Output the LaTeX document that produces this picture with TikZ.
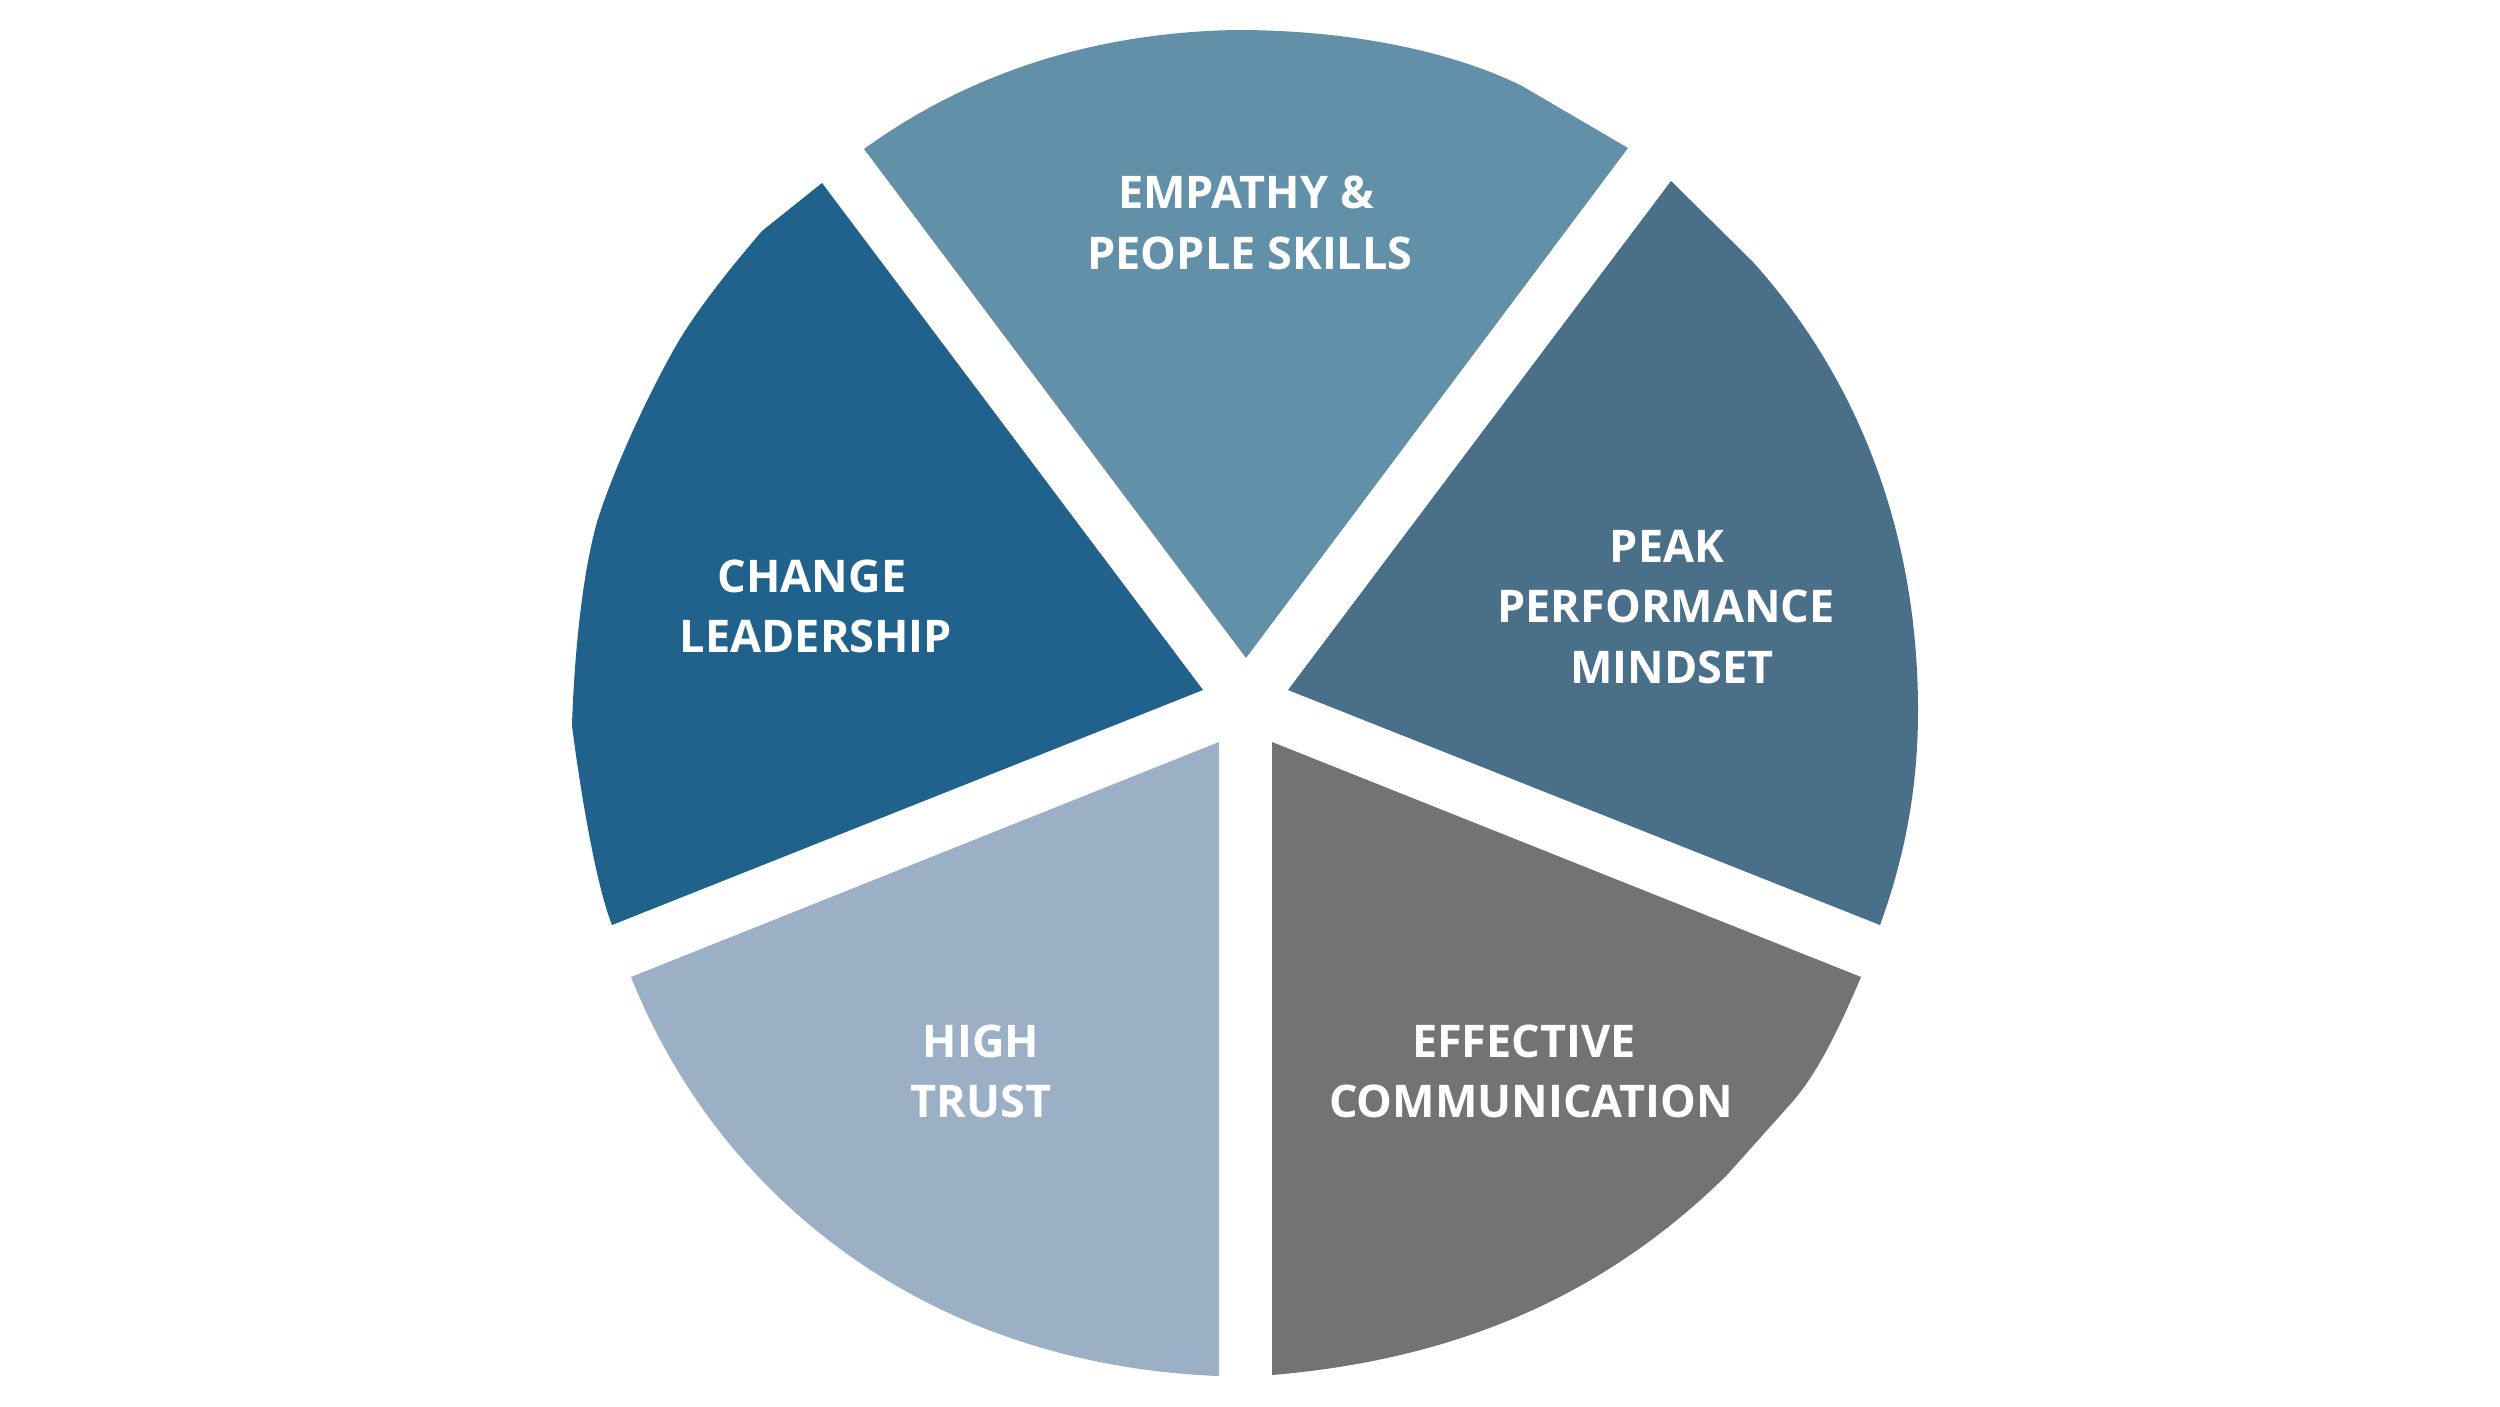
\documentclass[tikz,border=0pt]{standalone}
\usepackage{fontspec}
\setmainfont{Open Sans}
\definecolor{cEmp}{HTML}{6190A8}
\definecolor{cPeak}{HTML}{4A7089}
\definecolor{cChange}{HTML}{20628C}
\definecolor{cTrust}{HTML}{9BB0C5}
\definecolor{cEff}{HTML}{737373}
\tikzset{
  lbl/.style={text=white, font=\fontsize{12.8}{17}\selectfont\bfseries, anchor=base, inner sep=0pt},
}
\begin{document}
\begin{tikzpicture}[x=0.01cm,y=-0.01cm]
\useasboundingbox[fill=white] (0,0) rectangle (2500,1406);
% Empathy (top)
\fill[cEmp] (1246,658) -- (864,149)
  .. controls (980,65) and (1110,32) .. (1237,30)
  .. controls (1360,30) and (1460,55) .. (1522,86)
  -- (1628,148) -- cycle;
% Peak performance (upper right)
\fill[cPeak] (1288,690) -- (1671,181) -- (1753,262)
  .. controls (1850,370) and (1918,520) .. (1918,711)
  .. controls (1918,800) and (1900,870) .. (1880,925)
  -- cycle;
% Effective communication (lower right)
\fill[cEff] (1272,742) -- (1861,977)
  .. controls (1830,1050) and (1812,1078) .. (1794,1100)
  -- (1727,1175)
  .. controls (1600,1300) and (1450,1360) .. (1272,1375)
  -- cycle;
% High trust (lower left)
\fill[cTrust] (1219,742) -- (1219,1376)
  .. controls (930,1365) and (720,1200) .. (631,977)
  -- cycle;
% Change leadership (upper left)
\fill[cChange] (1203,690) -- (822,183) -- (762,231)
  .. controls (720,280) and (690,320) .. (673,351)
  .. controls (640,410) and (610,480) .. (597,522)
  .. controls (578,590) and (573,690) .. (572,726)
  .. controls (583,810) and (598,890) .. (612,925)
  -- cycle;
% Labels
\node[lbl] (emp1) at (1246,208) {EMPATHY \&};
\node[lbl] (emp2) at (1250,269) {PEOPLE SKILLS};
\node[lbl] (chg1) at (812,592) {CHANGE};
\node[lbl] (chg2) at (816,652) {LEADERSHIP};
\node[lbl] (pk1) at (1667,562) {PEAK};
\node[lbl] (pk2) at (1666,622) {PERFORMANCE};
\node[lbl] (pk3) at (1672,683) {MINDSET};
\node[lbl] (ef1) at (1524,1057) {EFFECTIVE};
\node[lbl] (ef2) at (1531,1117) {COMMUNICATION};
\node[lbl] (ht1) at (981,1057) {HIGH};
\node[lbl] (ht2) at (981,1117) {TRUST};
\end{tikzpicture}
\end{document}
